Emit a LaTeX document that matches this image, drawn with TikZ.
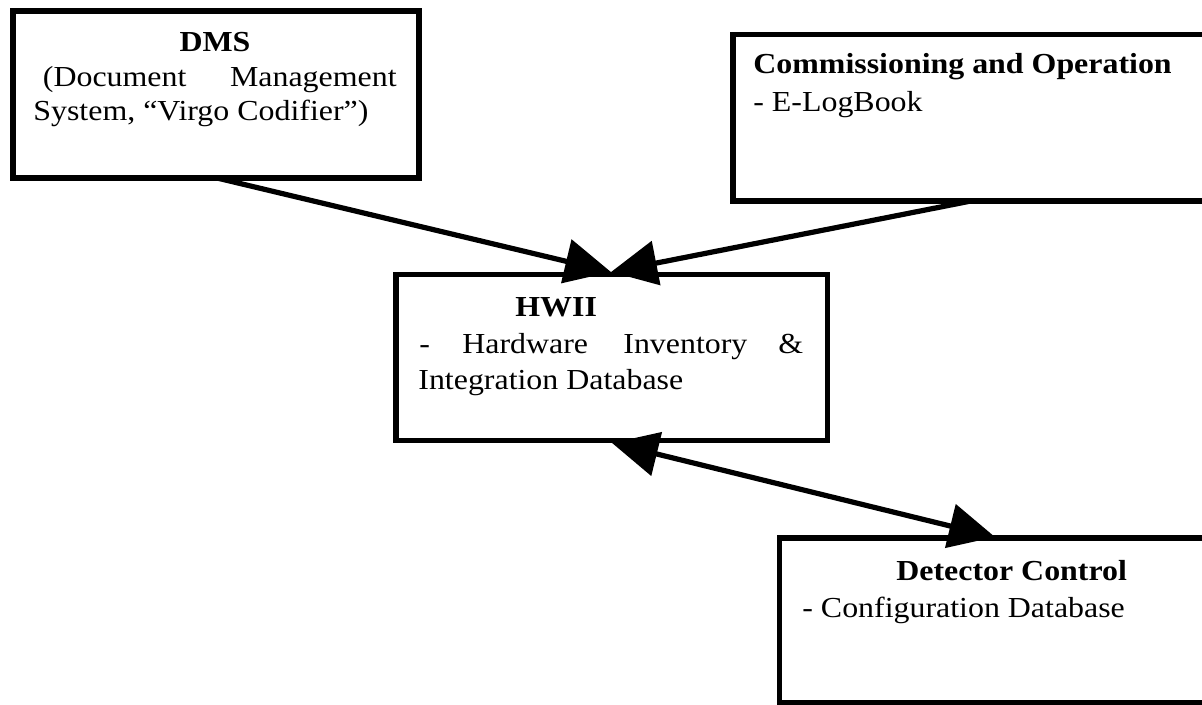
\documentclass[tikz,border=0pt]{standalone}
\usepackage{fontspec}
\setmainfont{Liberation Serif}[FakeStretch=1.1]
\usetikzlibrary{arrows.meta}
\begin{document}
\begin{tikzpicture}[x=0.5pt,y=-0.5pt,
  box/.style={draw, line width=2.6pt, outer sep=0pt, inner sep=0pt, anchor=north west},
  txt/.style={inner sep=0pt, font=\fontsize{14.5pt}{17pt}\selectfont},
  boldtxt/.style={inner sep=0pt, font=\fontsize{14.5pt}{17pt}\selectfont\bfseries},
  headtip/.tip={Triangle[length=23pt,width=22pt]},
  link/.style={line width=2.6pt, -headtip},
  linkboth/.style={line width=2.6pt, headtip-headtip},
  ]
\useasboundingbox (0,0) rectangle (1202,705);
\clip (0,0) rectangle (1202,705);
\fill[white] (0,0) rectangle (1202,705);

% boxes
\node[box, minimum width=203pt, minimum height=83.5pt] (dms) at (13,11) {};
\node[box, minimum width=263.5pt, minimum height=83.25pt] (comm) at (733,34.5) {};
\node[box, minimum width=215.75pt, minimum height=83pt] (hwii) at (396,274.5) {};
\node[box, minimum width=240.25pt, minimum height=82.25pt] (det) at (779.5,538) {};

% DMS text
\node[boldtxt, anchor=base] (dmst) at (215,52) {DMS};
\node[txt, anchor=base west] (dmsa) at (42.5,87) {(Document};
\node[txt, anchor=base east] (dmsb) at (397,87) {Management};
\node[txt, anchor=base west] (dmsc) at (33,121) {System, “Virgo Codifier”)};

% Commissioning text
\node[boldtxt, anchor=base west] (commt) at (753,73.5) {Commissioning and Operation};
\node[txt, anchor=base west] (comma) at (753,112) {- E-LogBook};

% HWII text
\node[boldtxt, anchor=base west] (hwiit) at (515,316) {HWII};
\node[txt, anchor=base west] (hwiia) at (419,353) {-};
\node[txt, anchor=base west] (hwiib) at (462,353) {Hardware};
\node[txt, anchor=base west] (hwiic) at (623,353) {Inventory};
\node[txt, anchor=base west] (hwiid) at (778,353) {\&};
\node[txt, anchor=base west] (hwiie) at (418,389) {Integration Database};

% Detector text
\node[boldtxt, anchor=base west] (dett) at (896,580) {Detector Control};
\node[txt, anchor=base west] (deta) at (802,617) {- Configuration Database};

% connector end points
\coordinate (dmsout) at (217,178);
\coordinate (commout) at (971,201);
\coordinate (hwiiin) at (611,272);
\coordinate (hwiiout) at (612,443);
\coordinate (detin) at (995,537);

\draw[link] (dmsout) -- (hwiiin);
\draw[link] (commout) -- (hwiiin);
\draw[linkboth] (hwiiout) -- (detin);
\end{tikzpicture}
\end{document}
